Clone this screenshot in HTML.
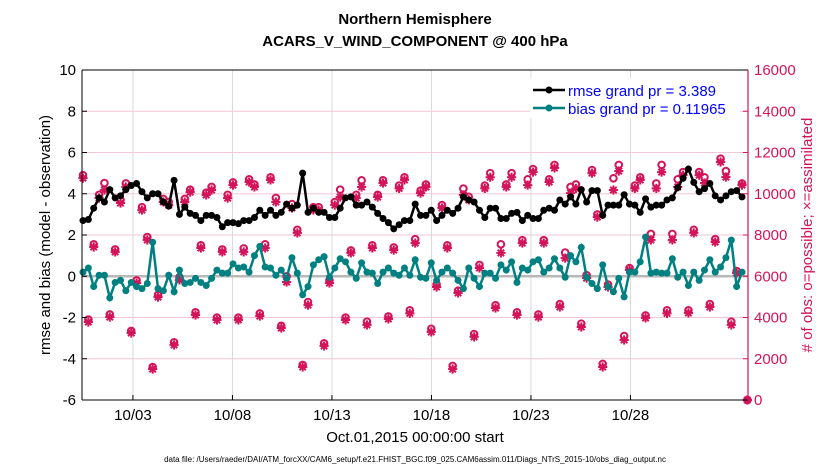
<!DOCTYPE html>
<html><head><meta charset="utf-8"><style>
body{margin:0;background:#fff;}
svg{display:block;font-family:"Liberation Sans",sans-serif;}
</style></head><body>
<svg id="chart" width="830" height="470">
<g id="grid"></g>
<g id="marks"></g>
<g id="axes"></g>
<text x="415" y="24" text-anchor="middle" font-size="15" font-weight="bold">Northern Hemisphere</text>
<text x="415" y="46" text-anchor="middle" font-size="15" font-weight="bold">ACARS_V_WIND_COMPONENT @ 400 hPa</text>
<text transform="translate(50,235) rotate(-90)" text-anchor="middle" font-size="15">rmse and bias (model - observation)</text>
<text transform="translate(812,235) rotate(-90)" text-anchor="middle" font-size="15" fill="#d4145a"># of obs: o=possible; ×=assimilated</text>
<text x="415" y="442" text-anchor="middle" font-size="15">Oct.01,2015 00:00:00 start</text>
<text x="415" y="462" text-anchor="middle" font-size="8">data file: /Users/raeder/DAI/ATM_forcXX/CAM6_setup/f.e21.FHIST_BGC.f09_025.CAM6assim.011/Diags_NTrS_2015-10/obs_diag_output.nc</text>
<g>
<rect x="530" y="78" width="210" height="40" fill="#fff"/>
<line x1="533" y1="90" x2="565" y2="90" stroke="#000" stroke-width="2.5"/>
<circle cx="549" cy="90" r="3.5" fill="#000"/>
<text x="568" y="96" font-size="15" fill="#0000ff">rmse grand pr = 3.389</text>
<line x1="533" y1="108" x2="565" y2="108" stroke="#008080" stroke-width="2.5"/>
<circle cx="549" cy="108" r="3.5" fill="#008080"/>
<text x="568" y="114" font-size="15" fill="#0000ff">bias grand pr = 0.11965</text>
</g>
</svg>
<script>
const rmse=[2.7,2.75,3.3,3.8,3.6,4.2,3.8,3.9,4.2,4.4,4.5,4.1,3.8,4.0,4.0,3.6,3.4,4.65,3.0,3.35,3.05,2.95,2.7,2.95,2.95,2.85,2.4,2.6,2.6,2.55,2.7,2.7,2.85,3.2,2.95,3.2,2.95,3.1,3.5,3.3,3.45,5.0,3.1,
3.3,3.1,3.1,2.85,2.85,3.3,3.8,3.85,3.45,3.45,3.6,3.35,3.05,2.8,2.6,2.3,2.5,2.7,2.7,3.5,2.95,2.95,3.2,2.7,2.95,3.2,3.05,3.3,3.85,3.7,3.6,3.2,2.85,3.3,3.3,2.8,2.8,3.05,3.1,2.7,2.95,
2.8,2.8,3.2,3.3,3.2,3.7,3.5,3.85,3.5,4.2,3.6,4.15,4.15,2.95,3.45,3.45,3.45,3.95,3.5,3.45,3.1,3.75,3.35,3.45,3.45,3.7,3.8,4.3,4.75,5.2,4.55,4.1,4.25,4.5,3.9,3.7,3.9,4.1,4.15,3.85];
const bias=[0.2,0.4,-0.5,0.05,0.05,-1.05,-0.3,-0.2,-0.7,-0.3,-0.5,-0.6,-0.35,1.65,-0.6,-0.7,0.05,-0.75,0.3,-0.35,-0.3,-0.1,-0.3,-0.45,-0.1,0.3,0.15,0.15,0.6,0.4,0.45,0.2,1.0,1.45,0.45,0.4,0.05,0.3,-0.1,0.9,0.15,-0.9,-0.5,
0.55,0.8,0.95,-0.05,0.4,0.85,0.7,0.2,-0.1,0.65,0.2,0.15,-0.35,0.2,0.4,0.15,0.05,0.4,0.05,0.8,-0.05,-0.1,0.65,-0.2,0.2,0.4,0.15,-0.2,-0.6,0.4,-0.1,-0.5,0.15,0.15,-0.1,0.55,0.3,0.7,-0.3,0.4,0.3,
0.7,0.8,0.2,0.4,0.85,0.4,-0.05,1.0,0.7,1.4,-0.05,-0.35,-0.6,0.55,-0.5,-0.75,-0.1,-1.0,0.2,0.2,0.7,1.9,0.15,0.2,0.15,0.15,0.85,-0.05,0.2,-0.45,0.2,-0.2,0.3,0.8,0.2,0.45,0.9,1.75,-0.5,0.2];
const assimilated=[10760,3780,7420,9790,10180,4020,7180,9550,10330,3250,5670,9210,7760,1500,4990,9600,9450,2670,5820,9600,10080,4120,7370,9940,10180,3880,7180,9790,10420,3880,7180,10570,10330,4070,7370,10670,9600,3490,5720,9310,8100,1600,4600,
9210,9210,2620,5670,9450,9840,3880,7130,9790,10330,3640,7370,9840,10520,3930,7270,10260,10670,4200,7610,10030,10330,3300,5480,9310,7370,1500,5190,9940,9700,3060,6400,10260,10800,4460,7130,10330,10800,4120,7610,10420,
11050,4020,7610,10570,11250,4510,6880,10030,10260,3540,5910,11000,8870,1600,5480,10180,11100,2910,6300,10260,10670,3980,7760,10260,11050,4200,7760,10330,10900,4220,8100,10900,10520,4510,7660,11540,10810,3640,6160,10420,0];
const possible=[10900,3900,7550,9950,10520,4150,7300,9700,10500,3350,5800,9350,7900,1600,5100,9750,9600,2800,5950,9750,10200,4250,7500,10050,10330,4000,7300,9950,10550,4000,7350,10700,10450,4200,7550,10800,9800,3600,6000,9500,8250,1700,4750,
9350,9350,2750,5800,9600,10200,4000,7250,9950,10650,3800,7500,9950,10650,4050,7400,10400,10800,4350,7800,10150,10450,3450,5600,9450,7500,1650,5300,10250,9850,3200,6550,10400,11000,4600,7550,10450,11000,4250,7750,10700,
11200,4150,7750,10700,11400,4650,7150,10330,10450,3700,6050,11150,9000,1750,5600,10750,11400,3100,6400,10400,10800,4100,8050,10500,11400,4350,8050,10700,11050,4350,8250,11050,10800,4650,7800,11700,11100,3800,6250,10500,0];
const yTicksLeft=[-6,-4,-2,0,2,4,6,8,10];
const yTicksRight=[0,2000,4000,6000,8000,10000,12000,14000,16000];
const xTickDays=[2.56,7.56,12.56,17.56,22.56,27.56];
const xTickLabels=['10/03','10/08','10/13','10/18','10/23','10/28'];

const X0=82,X1=748,Y0=70,Y1=400;
const yL=v=>Y1-(v+6)/16*(Y1-Y0);
const yR=v=>Y1-v/16000*(Y1-Y0);
const xIdx=i=>83+i*(742-83)/123;
const xDay=d=>X0+d*19.9;
const NS='http://www.w3.org/2000/svg';
function mk(tag,attrs,parent){const e=document.createElementNS(NS,tag);for(const k in attrs)e.setAttribute(k,attrs[k]);parent.appendChild(e);return e;}
const grid=document.getElementById('grid'),marks=document.getElementById('marks'),axes=document.getElementById('axes');

yTicksLeft.forEach((v,i)=>{
  const l=mk('line',{x1:X0,x2:X1,y1:yL(v),y2:yL(v),stroke:'#f4c6d6','stroke-width':1},grid);
  
  
  const t=mk('text',{x:X0-6,y:yL(v)+5,'text-anchor':'end','font-size':15},axes);
  t.textContent=v;
  
  
  mk('line',{x1:X0,x2:X0+5,y1:yL(v),y2:yL(v),stroke:'#000'},axes);
});
yTicksRight.forEach(v=>{
  const t=mk('text',{x:X1+6,y:yR(v)+5,'font-size':15,fill:'#d4145a'},axes);
  t.textContent=v;
  
  
  mk('line',{x1:X1-5,x2:X1,y1:yR(v),y2:yR(v),stroke:'#d4145a'},axes);
});
xTickDays.forEach((d,i)=>{
  const l=mk('line',{x1:xDay(d),x2:xDay(d),y1:Y0,y2:Y1,stroke:'#d8d8d8'},grid);
  
  
  mk('line',{x1:xDay(d),x2:xDay(d),y1:Y1-5,y2:Y1,stroke:'#000'},axes);
  const t=mk('text',{x:xDay(d),y:Y1+20,'text-anchor':'middle','font-size':15},axes);
  t.textContent=xTickLabels[i];
  
  
});
const zl=mk('line',{x1:X0,x2:X1,y1:yL(0),y2:yL(0),stroke:'#b8b8b8','stroke-width':2.5},grid);



assimilated.forEach((v,i)=>{
  const x=xIdx(i),y=yR(v),s=4.6;
  const g=mk('g',{stroke:'#d4145a','stroke-width':2},marks);
  
  
  mk('line',{x1:x-s,x2:x+s,y1:y,y2:y},g);
  mk('line',{x1:x,x2:x,y1:y-s,y2:y+s},g);
  mk('line',{x1:x-s*0.7,x2:x+s*0.7,y1:y-s*0.7,y2:y+s*0.7},g);
  mk('line',{x1:x-s*0.7,x2:x+s*0.7,y1:y+s*0.7,y2:y-s*0.7},g);
});
possible.forEach((v,i)=>{
  const c=mk('circle',{cx:xIdx(i),cy:yR(v),r:3.3,fill:'none',stroke:'#d4145a','stroke-width':2},marks);
  
  
});
function series(arr,color,name){
  const p=mk('polyline',{points:arr.map((v,i)=>xIdx(i)+','+yL(v)).join(' '),fill:'none',stroke:color,'stroke-width':2.5},marks);
  
  
  arr.forEach((v,i)=>{
    const c=mk('circle',{cx:xIdx(i),cy:yL(v),r:3.5,fill:color},marks);
    
    
  });
}
series(bias,'#008080','bias');
series(rmse,'#000000','rmse');

const la=mk('line',{x1:X0,x2:X0,y1:Y0,y2:Y1,stroke:'#000','stroke-width':1},axes);


const ba=mk('line',{x1:X0,x2:X1,y1:Y1,y2:Y1,stroke:'#000','stroke-width':1},axes);


const ta=mk('line',{x1:X0,x2:X1,y1:Y0,y2:Y0,stroke:'#000','stroke-width':1},axes);


const ra=mk('line',{x1:X1,x2:X1,y1:Y0,y2:Y1,stroke:'#d4145a','stroke-width':1.2},axes);


</script>
</body></html>
